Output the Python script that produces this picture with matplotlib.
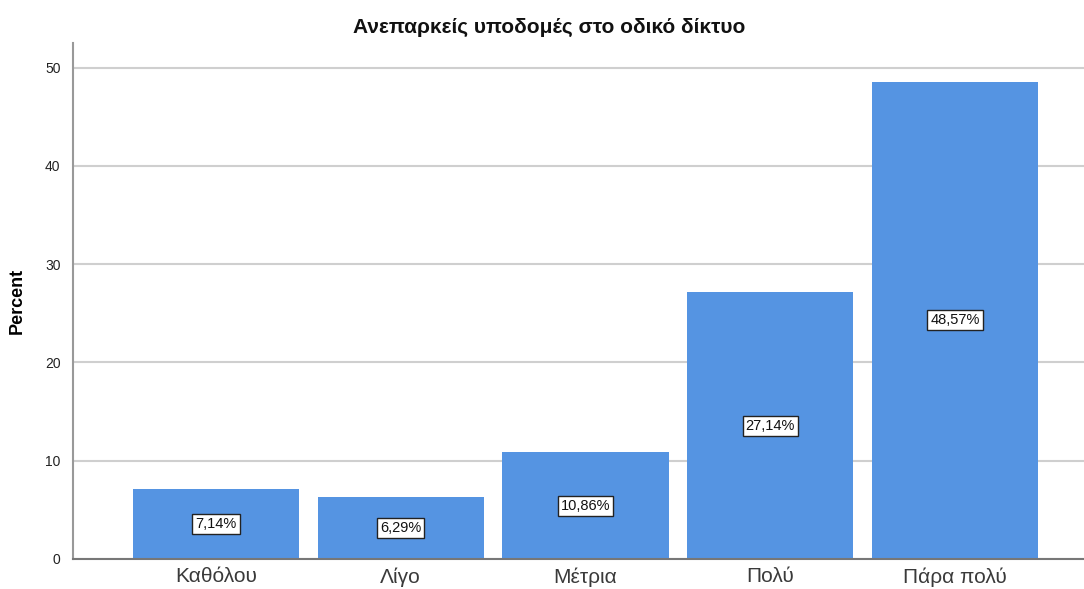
import matplotlib
matplotlib.use('Agg')
import matplotlib.pyplot as plt

plt.rcParams['font.family'] = ['Liberation Sans', 'DejaVu Sans']

# Survey responses: inadequate road infrastructure
CATEGORIES = ['Καθόλου', 'Λίγο', 'Μέτρια', 'Πολύ', 'Πάρα πολύ']
PERCENTS = [7.14, 6.29, 10.86, 27.14, 48.57]
Y_TICKS = [0, 10, 20, 30, 40, 50]

BAR_COLOR = '#5594E2'
GRID_COLOR = '#CFCFCF'

fig = plt.figure(figsize=(10.84, 5.89), dpi=100)
ax = fig.add_axes([73 / 1084, 30 / 589, 1 - 73 / 1084, (559 - 43) / 589])

x = list(range(len(CATEGORIES)))
ax.bar(x, PERCENTS, width=0.9, color=BAR_COLOR, zorder=2)

for xi, v in zip(x, PERCENTS):
    ax.text(xi, v / 2, f'{v:.2f}%'.replace('.', ','), ha='center', va='center',
            fontsize=10.5, color='#111111', zorder=3,
            bbox=dict(boxstyle='square,pad=0.2', fc='white', ec='#222222', lw=1))

ax.set_xlim(-0.774, 4.698)
ax.set_ylim(0, 52.5)
ax.set_yticks(Y_TICKS)
ax.set_xticks(x)
ax.set_xticklabels(CATEGORIES, fontsize=15, color='#3a3a3a')
ax.tick_params(axis='x', length=0, pad=6)
ax.tick_params(axis='y', length=0, pad=9, labelsize=10, labelcolor='#222222')

ax.grid(axis='y', color=GRID_COLOR, lw=1.5, zorder=0)
for side in ['top', 'right']:
    ax.spines[side].set_visible(False)
ax.spines['left'].set_color('#999999')
ax.spines['left'].set_linewidth(1.5)
ax.spines['bottom'].set_color('#777777')
ax.spines['bottom'].set_linewidth(1.5)
ax.spines['bottom'].set_zorder(4)

ax.set_ylabel('Percent', fontsize=13, fontweight='bold', labelpad=14)

fig.text(549 / 1084, 1 - 27 / 589, 'Ανεπαρκείς υποδομές στο οδικό δίκτυο',
         ha='center', va='center', fontsize=15, fontweight='bold', color='#111111')

fig.savefig('out.png', dpi=100)
